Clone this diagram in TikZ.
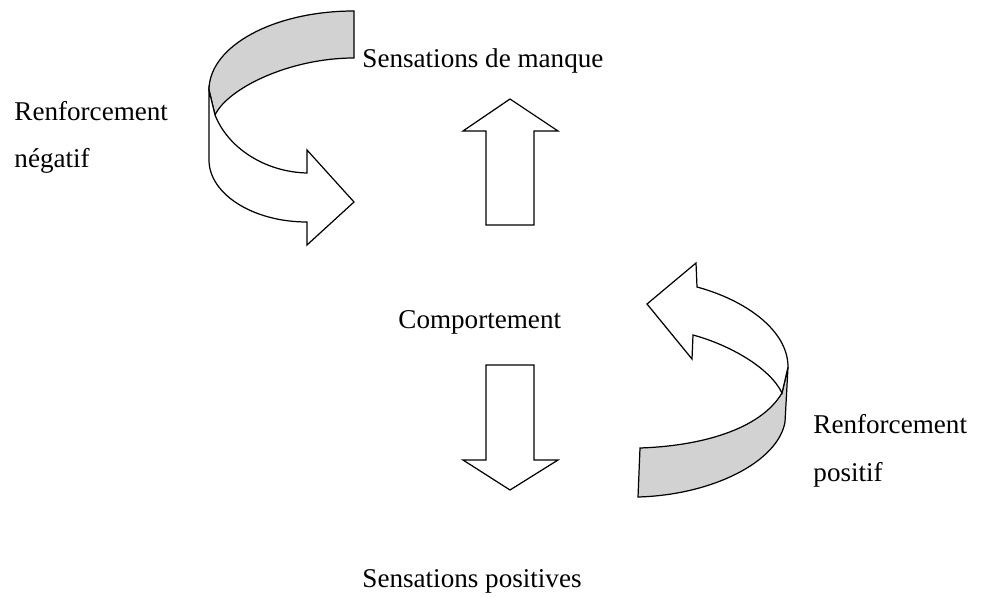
\documentclass[tikz,border=0pt]{standalone}
\usepackage{fontspec}
\setmainfont{Liberation Serif}
\usetikzlibrary{positioning}

\definecolor{bandgray}{RGB}{210,210,210}

\begin{document}
\begin{tikzpicture}[
  x=0.45pt, y=-0.45pt,
  lbl/.style={anchor=base west, inner sep=0pt, font=\fontsize{12.2}{14}\selectfont},
  blockarrow/.style={draw, line width=0.55pt, fill=white, line join=miter},
  band/.style={draw, line width=0.55pt, fill=bandgray}
]
\useasboundingbox (0,0) rectangle (990,598);

% -------------------------
% Labels
% -------------------------

\node[lbl] (manque) at (362,68)  {Sensations de manque};
\node[lbl] (compt)  at (398,329) {Comportement};
\node[lbl] (posit)  at (362,587) {Sensations positives};
\node[lbl] (rneg)   at (14,121)  {Renforcement};
\node[lbl] (neg)    at (14,168)  {négatif};
\node[lbl] (rpos)   at (813,433) {Renforcement};
\node[lbl] (pos)    at (813,481) {positif};

% -------------------------
% Straight block arrows
% -------------------------

% up arrow
\draw[blockarrow] (486,225) -- (486,131) -- (463,131) -- (510,99)
  -- (558,131) -- (534,131) -- (534,225) -- cycle;

% down arrow
\draw[blockarrow] (486,365) -- (486,460) -- (463,460) -- (510,490)
  -- (558,460) -- (534,460) -- (534,365) -- cycle;

% -------------------------
% Curved arrow, negative reinforcement
% -------------------------

\draw[band] (354,11) .. controls (274,11) and (209,46) .. (209,90)
  -- (215,115) .. controls (228,88) and (290,58) .. (354,58) -- cycle;
\draw[blockarrow] (209,90) -- (209,160)
  .. controls (209,194) and (253,222) .. (307,222)
  -- (307,245) -- (354,202) -- (307,150) -- (307,173)
  .. controls (265,172) and (228,148) .. (215,115) -- cycle;

% -------------------------
% Curved arrow, positive reinforcement
% -------------------------

\draw[band] (640,448) .. controls (700,446) and (760,430) .. (782,393)
  -- (788,367) -- (785,422)
  .. controls (778,462) and (712,495) .. (638,497) -- cycle;
\draw[blockarrow] (788,367) .. controls (788,330) and (745,300) .. (697,287)
  -- (696,263) -- (647,304) -- (692,359) -- (693,335)
  .. controls (730,345) and (770,368) .. (782,393) -- cycle;

\end{tikzpicture}
\end{document}
